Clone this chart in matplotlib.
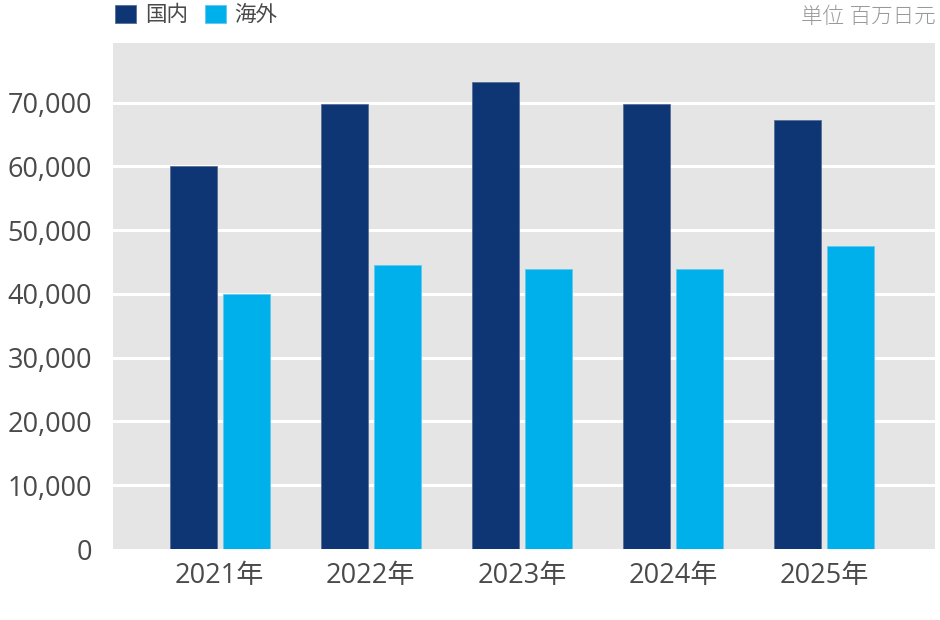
import matplotlib.pyplot as plt
from matplotlib.patches import Patch
import numpy as np

years = ['2021年', '2022年', '2023年', '2024年', '2025年']
domestic = [60000, 69800, 73250, 69750, 67250]
overseas = [39950, 44500, 43850, 43900, 47500]
yticks = [0, 10000, 20000, 30000, 40000, 50000, 60000, 70000]

c_dom = '#0e3675'
c_ovs = '#00b0eb'
txt = '#4a4a4a'
fams = ['Open Sans', 'Noto Sans CJK JP', 'DejaVu Sans']
plt.rcParams['font.family'] = fams

fig = plt.figure(figsize=(9.4, 6.2), dpi=100)
ax = fig.add_axes([0.1207, 0.1145, 0.8740, 0.8166])
ax.set_facecolor('#e5e5e5')

x = np.arange(len(years))
w = 0.311
off = 0.174
ax.bar(x - off, domestic, w, color=c_dom, edgecolor='#5a6d96', linewidth=0.6, zorder=3)
ax.bar(x + off, overseas, w, color=c_ovs, edgecolor='#5fc9f0', linewidth=0.6, zorder=3)

ax.set_xlim(-0.703, 4.733)
ax.set_ylim(0, 79400)
ax.set_yticks(yticks)
ax.set_yticklabels([f'{v:,}' for v in yticks])
ax.set_xticks(x)
ax.set_xticklabels(years)
for v in yticks[1:]:
    ax.axhline(v, color='white', linewidth=2.2, zorder=1)

ax.tick_params(axis='y', length=0, pad=15.5, labelsize=19.5, labelcolor=txt)
ax.tick_params(axis='x', length=0, pad=9, labelsize=19.5, labelcolor=txt)
for s in ax.spines.values():
    s.set_visible(False)

handles = [Patch(facecolor=c_dom, edgecolor='#5a6d96', linewidth=0.6, label='国内'),
           Patch(facecolor=c_ovs, edgecolor='#5fc9f0', linewidth=0.6, label='海外')]
leg = fig.legend(handles=handles, loc='center left', bbox_to_anchor=(0.1223, 0.975),
                 ncol=2, frameon=False, fontsize=15.5, handlelength=0.97, handleheight=0.97,
                 handletextpad=0.42, columnspacing=0.78, borderaxespad=0, borderpad=0)
for t in leg.get_texts():
    t.set_color(txt)

fig.text(0.995, 0.972, '単位 百万日元', ha='right', va='center', fontsize=15.5,
         color='#999999', family=fams, fontweight='light')

fig.savefig('out.png', dpi=100)
